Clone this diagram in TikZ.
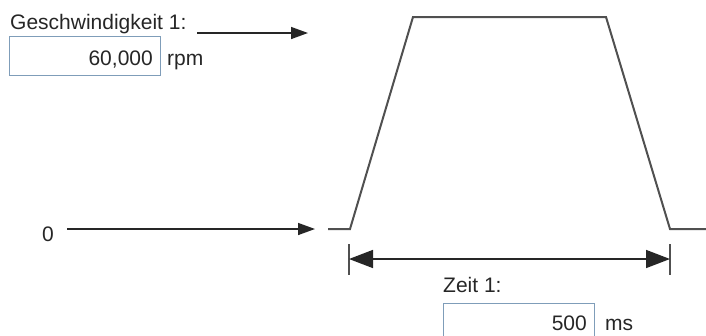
\documentclass[tikz,border=0pt]{standalone}
\usepackage{fontspec}
\setmainfont{Liberation Sans}
\usetikzlibrary{arrows.meta}
\definecolor{editborder}{RGB}{127,157,185}
\definecolor{curvegray}{RGB}{80,80,80}

\begin{document}
\begin{tikzpicture}[
    x=1pt, y=-1pt,
    label/.style={inner sep=0pt, font=\fontsize{21}{24}\selectfont, text=black!85},
    editbox/.style={draw=editborder, line width=1pt, minimum width=151pt, minimum height=39pt, anchor=north west, inner sep=0pt},
    arrow/.style={-{Triangle[length=17pt, width=12pt]}, line width=1.5pt, draw=black!85},
    dimarrow/.style={{Triangle[length=24pt, width=18pt]}-{Triangle[length=24pt, width=18pt]}, line width=1.5pt, draw=black!85},
    tick/.style={line width=1.5pt, draw=curvegray},
    profile/.style={draw=curvegray, line width=2pt}
]
    \useasboundingbox (0,0) rectangle (706,335);
    \clip (0,0) rectangle (706,335);

    % speed input
    \node[label, anchor=base west] (speedlabel) at (10,29) {Geschwindigkeit 1:};
    \node[editbox] (speedbox) at (9,36) {};
    \node[label, anchor=base east] (speedval) at (153,65) {60,000};
    \node[label, anchor=base west] (rpm) at (167,65) {rpm};

    % zero level
    \node[label, anchor=base] (zero) at (48,241) {0};

    % time input
    \node[label, anchor=base west] (zeitlabel) at (443,292) {Zeit 1:};
    \node[editbox] (timebox) at (443,303) {};
    \node[label, anchor=base east] (timeval) at (587,330) {500};
    \node[label, anchor=base west] (ms) at (605,330) {ms};

    % speed profile
    \draw[profile] (328,229) -- (350,229) -- (413,17) -- (606,17) -- (670,229) -- (706,229);

    \coordinate (speedstart) at (197,33);
    \coordinate (speedend) at (308,33);
    \coordinate (zerostart) at (67,229);
    \coordinate (zeroend) at (315,229);
    \draw[arrow] (speedstart) -- (speedend);
    \draw[arrow] (zerostart) -- (zeroend);

    % duration
    \coordinate (tleft) at (349,259);
    \coordinate (tright) at (670,259);
    \draw[tick] ([yshift=15pt]tleft) -- ([yshift=-16pt]tleft);
    \draw[tick] ([yshift=15pt]tright) -- ([yshift=-16pt]tright);
    \draw[dimarrow] (tleft) -- (tright);
\end{tikzpicture}
\end{document}
